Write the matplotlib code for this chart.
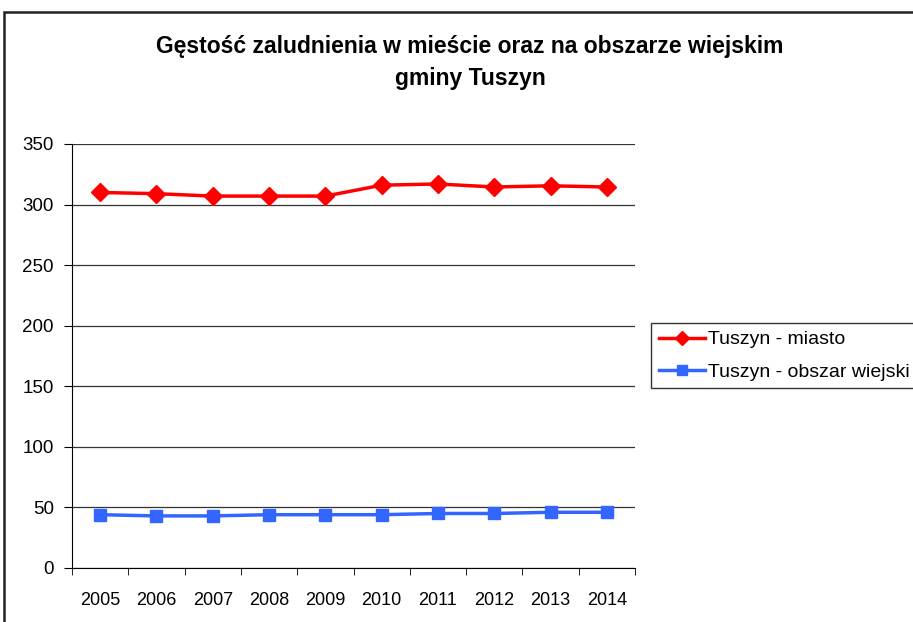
import numpy as np
import matplotlib.pyplot as plt
from matplotlib.patches import Rectangle

plt.rcParams['font.family'] = ['Liberation Sans', 'DejaVu Sans']

years = ['2005', '2006', '2007', '2008', '2009', '2010', '2011', '2012', '2013', '2014']
miasto = [310, 309, 307, 307, 307, 316, 317, 314.5, 315.5, 314.5]
wies = [44, 43, 43, 44, 44, 44, 45, 45, 46, 46]

fig = plt.figure(figsize=(9.13, 6.22), dpi=100)
ax = fig.add_axes([72/913, 54/622, 563/913, 424/622])

x = np.arange(len(years))
ax.plot(x, miasto, color='#ff0000', linewidth=2.5, marker='D', markersize=9,
        label='Tuszyn - miasto')
ax.plot(x, wies, color='#3366ff', linewidth=2.5, marker='s', markersize=9,
        label='Tuszyn - obszar wiejski')

ax.set_ylim(0, 350)
ax.set_yticks(np.arange(0, 351, 50))
ax.set_xlim(-0.5, len(years) - 0.5)
ax.set_xticks(x)
ax.set_xticklabels(years)
ax.set_xticks(np.arange(-0.5, len(years)), minor=True)
ax.tick_params(axis='x', which='major', length=0, pad=17, labelsize=13)
ax.tick_params(axis='x', which='minor', length=5, direction='out', color='black')
ax.tick_params(axis='y', length=6, direction='out', labelsize=13.5, pad=7)

ax.grid(axis='y', color='#333333', linewidth=0.9)
ax.set_axisbelow(True)
for s in ['top', 'right']:
    ax.spines[s].set_visible(False)
ax.spines['left'].set_color('black')
ax.spines['bottom'].set_color('black')

fig.text(470/913, 1 - 46/622, 'Gęstość zaludnienia w mieście oraz na obszarze wiejskim',
         ha='center', va='center', fontsize=16.5, fontweight='bold')
fig.text(470/913, 1 - 78/622, 'gminy Tuszyn',
         ha='center', va='center', fontsize=16.5, fontweight='bold')

leg = fig.legend(loc='upper left', bbox_to_anchor=(651/913, 1 - 323/622),
                 fontsize=14, frameon=True, fancybox=False, handlelength=2.4,
                 markerscale=0.75, borderpad=0.4, labelspacing=0.75,
                 handletextpad=0.15, borderaxespad=0)
leg.get_frame().set_edgecolor('black')
leg.get_frame().set_linewidth(1.0)

# outer chart border
fig.patches.append(Rectangle((4/913, -0.1), 1.2, 1 - 12/622 + 0.1,
                             transform=fig.transFigure, fill=False,
                             edgecolor='#222222', linewidth=1.8))

plt.savefig('out.png', dpi=100)
